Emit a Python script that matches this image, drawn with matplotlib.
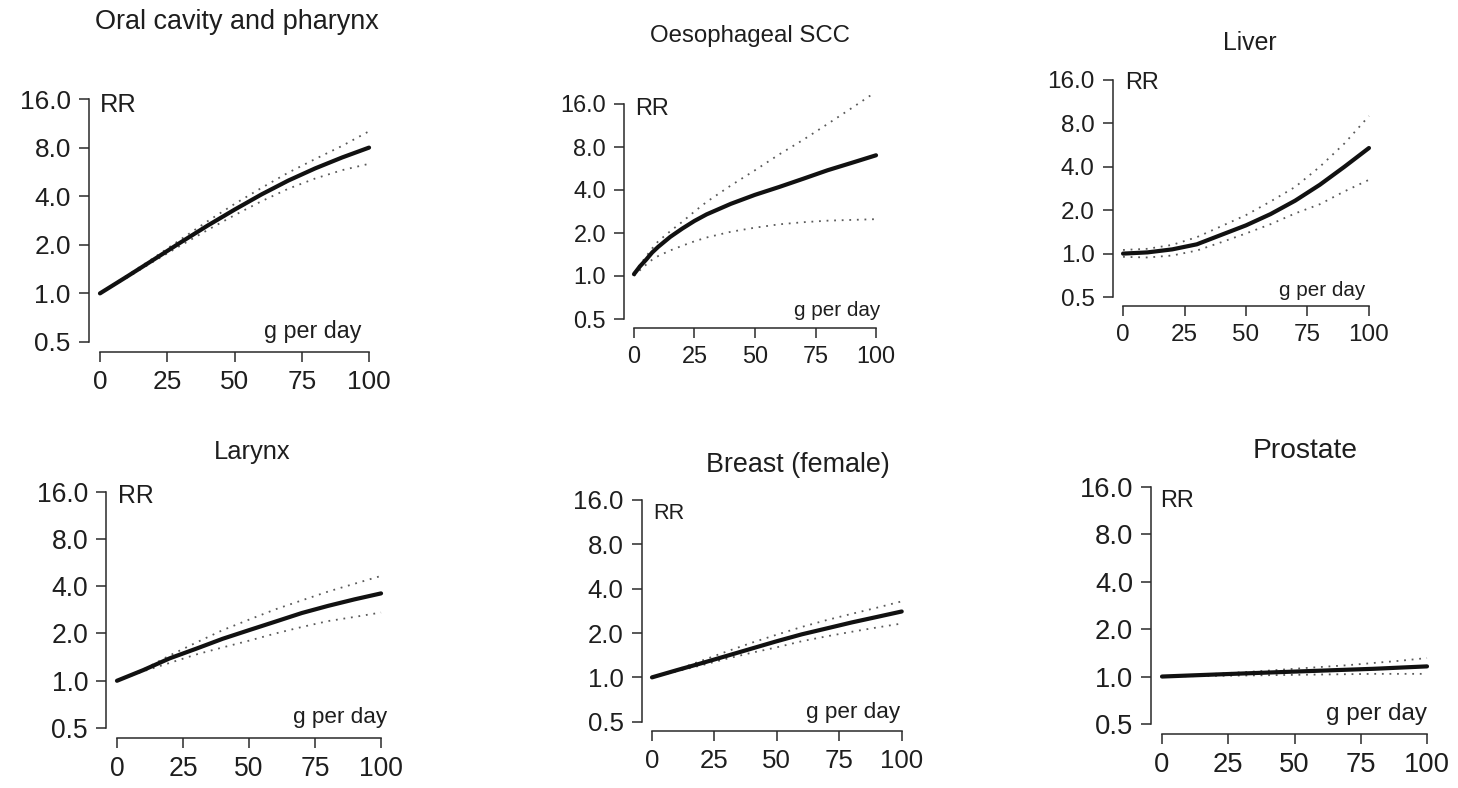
import numpy as np
import matplotlib
matplotlib.use("Agg")
import matplotlib.pyplot as plt
from matplotlib.ticker import FixedLocator, FixedFormatter, NullLocator

plt.rcParams['font.family'] = ['Liberation Sans', 'DejaVu Sans']

# ---------------------------------------------------------------------------
# Dose-response data: relative risk (RR) by alcohol intake (g per day)
# ---------------------------------------------------------------------------
grams = [0, 10, 20, 30, 40, 50, 60, 70, 80, 90, 100]

oral_rr    = [1.0, 1.27, 1.62, 2.07, 2.63, 3.3, 4.1, 5.0, 5.95, 6.95, 8.0]
oral_hi    = [1.0, 1.29, 1.66, 2.16, 2.8, 3.58, 4.5, 5.6, 6.8, 8.2, 10.1]
oral_lo    = [1.0, 1.25, 1.58, 1.98, 2.47, 3.05, 3.72, 4.45, 5.15, 5.8, 6.35]

# steep start, so sampled more finely near zero
oesoph_g   = [0, 2.5, 5, 7.5, 10, 15, 20, 25, 30, 40, 50, 60, 70, 80, 90, 100]
oesoph_rr  = [1.03, 1.17, 1.3, 1.46, 1.6, 1.88, 2.15, 2.43, 2.7, 3.2, 3.7, 4.2,
              4.8, 5.5, 6.2, 7.0]
oesoph_hi  = [1.05, 1.2, 1.37, 1.56, 1.75, 2.06, 2.4, 2.83, 3.3, 4.3, 5.5, 7.1,
              9.0, 11.6, 15.0, 19.5]
oesoph_lo  = [1.0, 1.1, 1.2, 1.3, 1.38, 1.51, 1.63, 1.75, 1.86, 2.04, 2.18, 2.3,
              2.38, 2.44, 2.47, 2.5]

liver_rr   = [1.0, 1.02, 1.07, 1.16, 1.35, 1.57, 1.88, 2.33, 3.0, 4.0, 5.4]
liver_hi   = [1.06, 1.08, 1.15, 1.3, 1.55, 1.85, 2.3, 2.9, 4.0, 5.8, 9.0]
liver_lo   = [0.95, 0.94, 0.97, 1.05, 1.2, 1.38, 1.6, 1.9, 2.2, 2.7, 3.25]

larynx_rr  = [1.0, 1.17, 1.39, 1.6, 1.85, 2.1, 2.38, 2.7, 3.0, 3.3, 3.6]
larynx_hi  = [1.0, 1.18, 1.45, 1.75, 2.1, 2.45, 2.85, 3.25, 3.7, 4.15, 4.65]
larynx_lo  = [1.0, 1.15, 1.3, 1.47, 1.63, 1.8, 2.0, 2.2, 2.4, 2.55, 2.72]

breast_rr  = [1.0, 1.12, 1.25, 1.4, 1.57, 1.76, 1.96, 2.15, 2.36, 2.57, 2.8]
breast_hi  = [1.0, 1.13, 1.3, 1.5, 1.72, 1.95, 2.2, 2.45, 2.7, 2.97, 3.28]
breast_lo  = [1.0, 1.1, 1.21, 1.34, 1.47, 1.6, 1.76, 1.9, 2.04, 2.18, 2.32]

prost_rr   = [1.0, 1.015, 1.03, 1.045, 1.06, 1.075, 1.09, 1.105, 1.12, 1.14, 1.16]
prost_hi   = [1.0, 1.02, 1.04, 1.065, 1.09, 1.12, 1.15, 1.18, 1.22, 1.26, 1.31]
prost_lo   = [1.0, 1.005, 1.01, 1.015, 1.02, 1.025, 1.03, 1.035, 1.04, 1.04, 1.04]

rr_ticks = [0.5, 1.0, 2.0, 4.0, 8.0, 16.0]
rr_labels = ['0.5', '1.0', '2.0', '4.0', '8.0', '16.0']
g_ticks = [0, 25, 50, 75, 100]
g_labels = ['0', '25', '50', '75', '100']

# ---------------------------------------------------------------------------
# Layout (pixels): axes box, title/RR/"g per day" anchors, font sizes
# ---------------------------------------------------------------------------
W, H = 1458, 788
FS = 1.08  # global text scale
panels = [
    dict(title='Oral cavity and pharynx', g=grams, rr=oral_rr, hi=oral_hi, lo=oral_lo,
         box=(89.2, 89.3, 379.8, 351.7), t_xy=(237, 29.3), rr_xy=(100, 111.7),
         g_xy=(361.7, 337.7), fs=(17.5, 18.0, 17.0, 15.5)),
    dict(title='Oesophageal SCC', g=oesoph_g, rr=oesoph_rr, hi=oesoph_hi, lo=oesoph_lo,
         box=(624.3, 95.4, 885.7, 327.6), t_xy=(750, 41.7), rr_xy=(635, 115),
         g_xy=(880, 315.7), fs=(15.7, 16.0, 15.7, 13.8)),
    dict(title='Liver', g=grams, rr=liver_rr, hi=liver_hi, lo=liver_lo,
         box=(1113.2, 71.3, 1378.8, 305.7), t_xy=(1250, 50), rr_xy=(1125, 89.3),
         g_xy=(1365, 296), fs=(16.2, 16.6, 15.7, 13.8)),
    dict(title='Larynx', g=grams, rr=larynx_rr, hi=larynx_hi, lo=larynx_lo,
         box=(106.4, 482.2, 391.6, 737.5), t_xy=(252, 459.3), rr_xy=(118.3, 503.3),
         g_xy=(386.7, 723.3), fs=(17.7, 17.0, 16.6, 15.0)),
    dict(title='Breast (female)', g=grams, rr=breast_rr, hi=breast_hi, lo=breast_lo,
         box=(642, 491.1, 911.7, 730.6), t_xy=(798, 471.7), rr_xy=(653.3, 519),
         g_xy=(900, 717.7), fs=(17.3, 17.9, 14.4, 15.0)),
    dict(title='Prostate', g=grams, rr=prost_rr, hi=prost_hi, lo=prost_lo,
         box=(1151.4, 477.2, 1437.6, 733.5), t_xy=(1305, 458.3), rr_xy=(1160, 506.7),
         g_xy=(1426.7, 720), fs=(18.3, 18.8, 15.7, 16.2)),
]

TXT = '#1e1e1e'
AX = '#2a2a2a'


def fx(x):
    return x / W


def fy(y):
    return 1 - y / H


fig = plt.figure(figsize=(W / 100, H / 100), dpi=100)
fig.patch.set_facecolor('white')

for p in panels:
    l, t, r, b = p['box']
    ax = fig.add_axes([fx(l), fy(b), (r - l) / W, (b - t) / H])
    ax.set_facecolor('none')

    # CI bounds (dotted) and fitted curve (thick)
    ax.plot(p['g'], p['hi'], color='#5a5a5a', lw=1.3, ls=(0, (1, 3.2)))
    ax.plot(p['g'], p['lo'], color='#5a5a5a', lw=1.3, ls=(0, (1, 3.2)))
    ax.plot(p['g'], p['rr'], color='#111111', lw=3.0, solid_capstyle='round',
            solid_joinstyle='round')

    # log2 axis with R-style 4% padding
    ax.set_yscale('log', base=2)
    ax.set_xlim(-4, 104)
    ax.set_ylim(0.5 / 2 ** 0.2, 16.0 * 2 ** 0.2)

    for side in ('top', 'right'):
        ax.spines[side].set_visible(False)
    ax.spines['left'].set_bounds(0.5, 16.0)
    ax.spines['bottom'].set_bounds(0, 100)
    for side in ('left', 'bottom'):
        ax.spines[side].set_linewidth(1.1)
        ax.spines[side].set_color(AX)

    tick_fs, title_fs, rr_fs, g_fs = [s * FS for s in p['fs']]
    ax.yaxis.set_major_locator(FixedLocator(rr_ticks))
    ax.yaxis.set_major_formatter(FixedFormatter(rr_labels))
    ax.yaxis.set_minor_locator(NullLocator())
    ax.xaxis.set_major_locator(FixedLocator(g_ticks))
    ax.xaxis.set_major_formatter(FixedFormatter(g_labels))
    ax.tick_params(length=7.2, width=1.1, color=AX, labelcolor=TXT,
                   labelsize=tick_fs, pad=6.0)

    fig.text(fx(p['t_xy'][0]), fy(p['t_xy'][1]), p['title'], ha='center',
             va='baseline', fontsize=title_fs, color=TXT)
    fig.text(fx(p['rr_xy'][0]), fy(p['rr_xy'][1]), 'RR', ha='left',
             va='baseline', fontsize=rr_fs, color=TXT)
    fig.text(fx(p['g_xy'][0]), fy(p['g_xy'][1]), 'g per day', ha='right',
             va='baseline', fontsize=g_fs, color=TXT)

fig.savefig('out.png', dpi=100)
